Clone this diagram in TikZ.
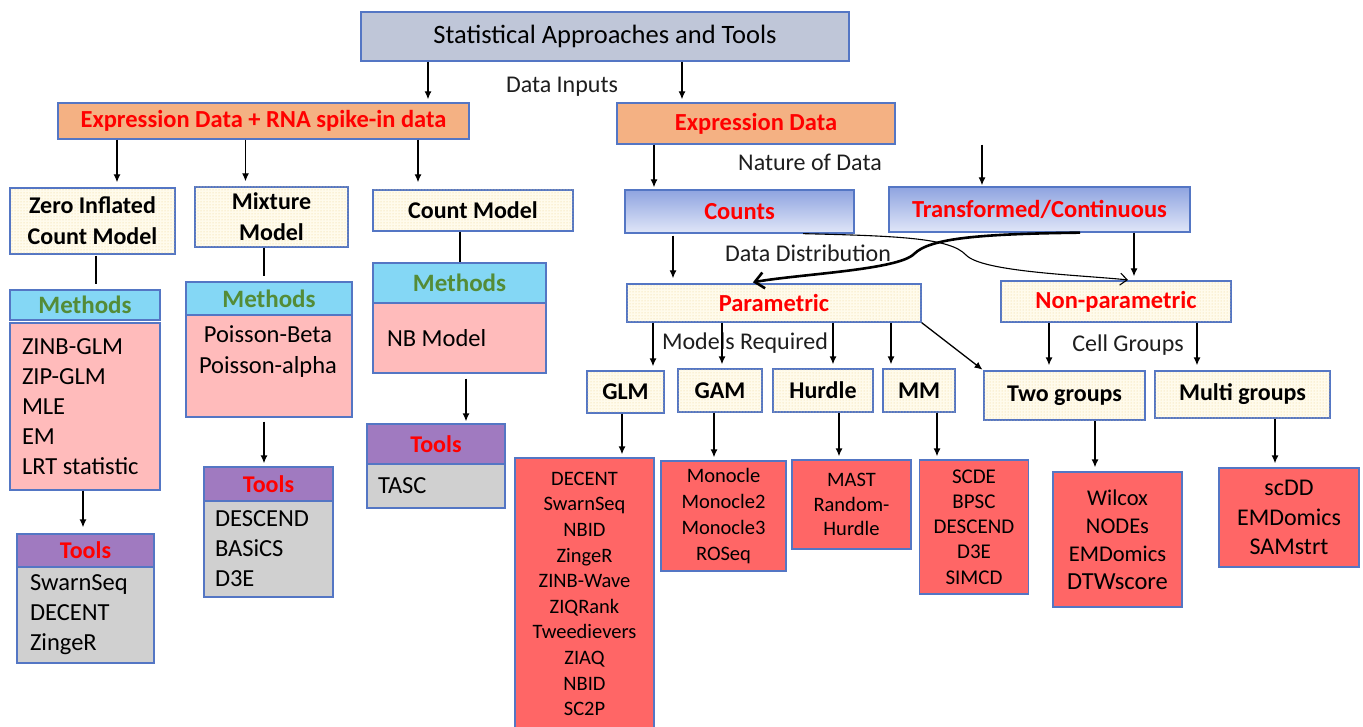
\documentclass[tikz,border=0pt]{standalone}
\usepackage{fontspec}
\setmainfont{Carlito}
\usetikzlibrary{arrows.meta,patterns}
\newcommand\myfs[2]{\fontsize{#1}{#2}\selectfont}
\definecolor{bordercol}{RGB}{84,118,196}
\definecolor{titlefill}{RGB}{191,198,216}
\definecolor{orangefill}{RGB}{244,177,131}
\definecolor{cyanfill}{RGB}{132,215,245}
\definecolor{greentxt}{RGB}{84,140,55}
\definecolor{pinkfill}{RGB}{255,187,187}
\definecolor{purplefill}{RGB}{160,122,192}
\definecolor{grayfill}{RGB}{208,208,208}
\definecolor{redfill}{RGB}{255,102,102}
\definecolor{redtxt}{RGB}{255,0,0}
\definecolor{creamfill}{RGB}{255,251,236}
\definecolor{dotcol}{RGB}{236,208,140}
\definecolor{bluetop}{RGB}{143,164,224}
\definecolor{bluebot}{RGB}{224,230,248}
\definecolor{lbltxt}{RGB}{30,30,30}
\tikzset{
  bx/.style={draw=bordercol, line width=1.3pt, inner sep=0pt, align=center},
  dotbx/.style={bx, fill=creamfill, postaction={pattern=dots, pattern color=dotcol}},
  hdtxt/.style={font=\bfseries\myfs{24}{31}},
  redhd/.style={font=\bfseries\myfs{24.5}{30}, text=redtxt},
  gradbx/.style={bx, top color=bluetop, bottom color=bluebot},
  methhd/.style={bx, fill=cyanfill, font=\bfseries\myfs{25}{30}, text=greentxt},
  toolhd/.style={bx, fill=purplefill, font=\bfseries\myfs{24}{30}, text=redtxt},
  pinkbx/.style={bx, fill=pinkfill},
  graybx/.style={bx, fill=grayfill},
  redbx/.style={bx, fill=redfill},
  leftlist/.style={align=flush left, font=\myfs{24.5}{30}},
  lbl/.style={font=\myfs{24}{28}, inner sep=0pt, text=lbltxt},
  arr/.style={-{Latex[length=8pt,width=7pt]}, line width=1.3pt},
  ln/.style={line width=1.3pt},
}
\begin{document}
\begin{tikzpicture}[x=1pt,y=-1pt]
\useasboundingbox (0,0) rectangle (1363,727);
\fill[white] (0,0) rectangle (1363,727);

% top
\node[bx, fill=titlefill, minimum width=488pt, minimum height=49pt, font=\myfs{26.5}{30}] (title) at (605,36.5) {Statistical Approaches and Tools};
\node[bx, fill=orangefill, minimum width=411pt, minimum height=36pt, redhd] (spike) at (263.5,121) {Expression Data + RNA spike-in data};
\node[bx, fill=orangefill, minimum width=278pt, minimum height=41pt, redhd] (expr) at (756,123.5) {Expression Data};

% left branch
\node[dotbx, minimum width=165pt, minimum height=66pt, hdtxt] (zi) at (92.5,221) {Zero Inflated\\Count Model};
\node[dotbx, minimum width=153pt, minimum height=60pt, hdtxt] (mix) at (271.5,217) {Mixture\\Model};
\node[dotbx, minimum width=200pt, minimum height=41pt, hdtxt] (cnt) at (473,210.5) {Count Model};

\node[methhd, minimum width=150pt, minimum height=30pt] (zim) at (85,305) {Methods};
\node[pinkbx, minimum width=150pt, minimum height=167pt, text width=126pt, inner xsep=12pt, leftlist] (zib) at (85,406.5) {ZINB-GLM\\ZIP-GLM\\MLE\\EM\\LRT statistic};
\node[toolhd, minimum width=137pt, minimum height=33pt] (zit) at (85.5,550.5) {Tools};
\node[graybx, minimum width=137pt, minimum height=96pt, text width=111pt, inner xsep=13pt, leftlist] (zitb) at (85.5,615) {SwarnSeq\\DECENT\\ZingeR};

\node[methhd, minimum width=166pt, minimum height=33pt] (mixm) at (269,298.5) {Methods};
\node[pinkbx, minimum width=166pt, minimum height=102pt] (mixb) at (269,366) {};
\node[font=\myfs{24.5}{31}, inner sep=0pt, align=center] (mixbt) at (268,351.5) {Poisson-Beta\\Poisson-alpha};
\node[toolhd, minimum width=129pt, minimum height=34pt] (mixt) at (268.5,484) {Tools};
\node[graybx, minimum width=129pt, minimum height=96pt, text width=107pt, inner xsep=11pt, leftlist] (mixtb) at (268.5,549) {DESCEND\\BASiCS\\D3E};

\node[methhd, minimum width=173pt, minimum height=40pt] (cntm) at (459.5,283) {Methods};
\node[pinkbx, minimum width=173pt, minimum height=70pt, text width=145pt, inner xsep=14pt, leftlist] (cntb) at (459.5,338) {NB Model};
\node[toolhd, minimum width=138pt, minimum height=40pt] (cntt) at (436,444) {Tools};
\node[graybx, minimum width=138pt, minimum height=44pt, text width=116pt, inner xsep=11pt, leftlist] (cnttb) at (436,486) {TASC};

% right branch
\node[gradbx, minimum width=229pt, minimum height=43pt, redhd] (counts) at (739.5,211.5) {Counts};
\node[gradbx, minimum width=301pt, minimum height=45pt, redhd] (trans) at (1039.5,209.5) {Transformed/Continuous};
\node[dotbx, minimum width=294pt, minimum height=38pt, redhd] (para) at (774,303) {Parametric};
\node[dotbx, minimum width=230pt, minimum height=41pt, redhd] (nonp) at (1116,301.5) {Non-parametric};

\node[dotbx, minimum width=77pt, minimum height=42pt, hdtxt] (glm) at (625.5,392) {GLM};
\node[dotbx, minimum width=84pt, minimum height=43pt, hdtxt] (gam) at (720,390.5) {GAM};
\node[dotbx, minimum width=100pt, minimum height=43pt, hdtxt] (hur) at (823,390.5) {Hurdle};
\node[dotbx, minimum width=72pt, minimum height=43pt, hdtxt] (mm) at (919,390.5) {MM};
\node[dotbx, minimum width=161pt, minimum height=49pt, hdtxt] (two) at (1064.5,395.5) {Two groups};
\node[dotbx, minimum width=175pt, minimum height=47pt, hdtxt] (multi) at (1242.5,394.5) {Multi groups};

\node[redbx, minimum width=139pt, minimum height=272pt, font=\myfs{20.5}{25.6}] (glmt) at (584.5,594) {DECENT\\SwarnSeq\\NBID\\ZingeR\\ZINB-Wave\\ZIQRank\\Tweedievers\\ZIAQ\\NBID\\SC2P};
\node[redbx, minimum width=125pt, minimum height=110pt, font=\myfs{20.5}{25.7}] (gamt) at (723.5,516) {Monocle\\Monocle2\\Monocle3\\ROSeq};
\node[redbx, minimum width=119pt, minimum height=89pt, font=\myfs{20.5}{24.5}] (hurt) at (851.5,504.5) {MAST\\Random-\\Hurdle};
\node[redbx, minimum width=109pt, minimum height=134pt, font=\myfs{21}{25.2}] (mmt) at (974,527) {SCDE\\BPSC\\DESCEND\\D3E\\SIMCD};
\node[redbx, minimum width=129pt, minimum height=135pt, font=\myfs{22.5}{28}] (twot) at (1117.5,539.5) {Wilcox\\NODEs\\EMDomics\\{\myfs{24.5}{28}DTWscore}};
\node[redbx, minimum width=140pt, minimum height=99pt, font=\myfs{24}{29.5}] (multit) at (1289,517.5) {scDD\\EMDomics\\SAMstrt};

% labels
\node[lbl] (lin) at (562,87) {Data Inputs};
\node[lbl] (lnat) at (810,162) {Nature of Data};
\node[lbl] (ldist) at (808,253) {Data Distribution};
\node[lbl] (lmod) at (745,343) {Models Required};
\node[lbl] (lcell) at (1128,345) {Cell Groups};

% connectors
\draw[arr, shorten >=3pt] (title.south -| 428,0) -- (spike.north -| 428,0);
\draw[arr, shorten >=3pt] (title.south -| 682,0) -- (expr.north -| 682,0);
\draw[arr, shorten >=5pt] (spike.south -| 117,0) -- (zi.north -| 117,0);
\draw[arr, shorten >=5pt] (spike.south -| 245.5,0) -- (mix.north -| 245.5,0);
\draw[arr, shorten >=7pt] (spike.south -| 418,0) -- (cnt.north -| 418,0);
\draw[ln, shorten <=1pt, shorten >=5pt] (zi.south -| 96,0) -- (zim.north -| 96,0);
\draw[ln, shorten >=5pt] (mix.south -| 264,0) -- (mixm.north -| 264,0);
\draw[ln] (cnt.south -| 460,0) -- (cntm.north -| 460,0);
\draw[arr, shorten >=6pt] (zib.south -| 83,0) -- (zit.north -| 83,0);
\draw[arr, shorten <=4pt, shorten >=3pt] (mixb.south -| 264,0) -- (mixt.north -| 264,0);
\draw[arr, shorten <=5pt, shorten >=2pt] (cntb.south -| 466,0) -- (cntt.north -| 466,0);

\draw[arr, shorten >=2pt] (expr.south -| 654,0) -- (counts.north -| 654,0);
\draw[arr, shorten >=1pt] (expr.south -| 982,0) -- (trans.north -| 982,0);
\draw[arr, shorten <=2pt, shorten >=5pt] (counts.south -| 673,0) -- (para.north -| 673,0);
\draw[arr, shorten >=4pt] (trans.south -| 1134,0) -- (nonp.north -| 1134,0);

\draw[line width=2.6pt, -{Straight Barb[length=9pt,width=16pt]}, shorten >=6pt] (trans.south -| 1080,0) .. controls (980,234) and (930,238) .. (914,254) .. controls (898,270) and (800,274) .. (para.north -| 747,0);
\draw[line width=1.1pt, -{Straight Barb[length=7pt,width=12pt]}, shorten >=4pt] (counts.south -| 803,0) .. controls (900,236) and (950,238) .. (966,255) .. controls (982,272) and (1080,275) .. (nonp.north -| 1132,0);

\draw[arr, shorten >=4pt] (para.south -| 653,0) -- (glm.north -| 653,0);
\draw[arr, shorten >=4pt] (para.south -| 722,0) -- (gam.north -| 722,0);
\draw[arr, shorten >=4pt] (para.south -| 833,0) -- (hur.north -| 833,0);
\draw[arr, shorten >=4pt] (para.south -| 891,0) -- (mm.north -| 891,0);
\draw[arr, shorten >=1pt] (para.south east) -- (two.north west);
\draw[arr, shorten >=5pt] (nonp.south -| 1049,0) -- (two.north -| 1049,0);
\draw[arr, shorten >=5pt] (nonp.south -| 1197,0) -- (multi.north -| 1197,0);

\draw[arr, shorten >=3pt] (glm.south -| 622,0) -- (glmt.north -| 622,0);
\draw[arr, shorten >=3pt] (gam.south -| 714,0) -- (gamt.north -| 714,0);
\draw[arr, shorten >=3pt] (hur.south -| 839,0) -- (hurt.north -| 839,0);
\draw[arr, shorten >=3pt] (mm.south -| 937,0) -- (mmt.north -| 937,0);
\draw[arr, shorten >=4pt] (two.south -| 1095,0) -- (twot.north -| 1095,0);
\draw[arr, shorten >=4pt] (multi.south -| 1275,0) -- (multit.north -| 1275,0);
\end{tikzpicture}
\end{document}
